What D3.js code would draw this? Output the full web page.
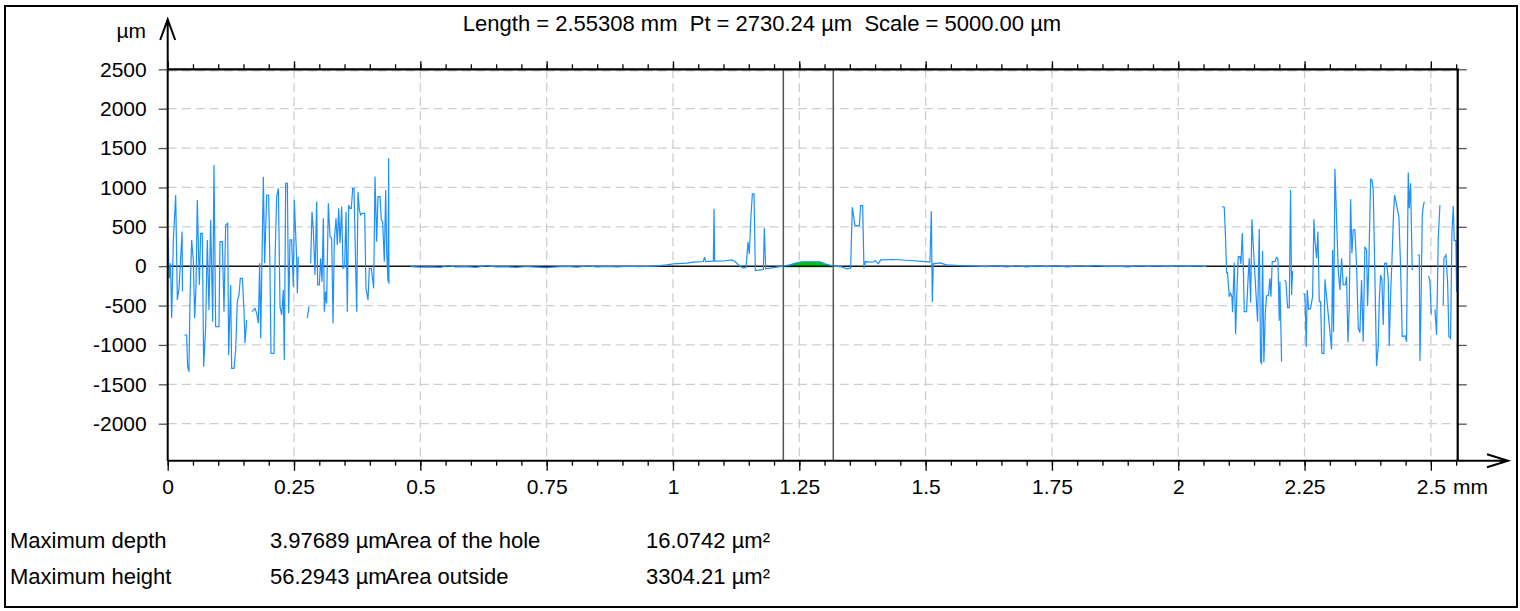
<!DOCTYPE html>
<html><head><meta charset="utf-8">
<script src="https://cdn.jsdelivr.net/npm/d3@7"></script>
<style>
body{margin:0;background:#fff}
svg{display:block}
text{font-family:"Liberation Sans",Arial,Helvetica,sans-serif;fill:#000}
</style>
</head><body>
<svg id="c" width="1520" height="611"></svg>
<script>
// ---------- data ----------
const titleText = "Length = 2.55308 mm  Pt = 2730.24 µm  Scale = 5000.00 µm";
const xUnit = "mm";
const yUnit = "µm";
const xDomain = [0, 2.55308];
const yDomain = [-2470, 2500];
const xTickValues = [0, 0.25, 0.5, 0.75, 1, 1.25, 1.5, 1.75, 2, 2.25, 2.5];
const xTickLabels = ["0", "0.25", "0.5", "0.75", "1", "1.25", "1.5", "1.75", "2", "2.25", "2.5"];
const yTickValues = [-2000, -1500, -1000, -500, 0, 500, 1000, 1500, 2000, 2500];
const yTickLabels = ["-2000", "-1500", "-1000", "-500", "0", "500", "1000", "1500", "2000", "2500"];
const cursorX = [1.2184, 1.3173];

// profile (mm, µm); null = missing points
const profileX = [
  0.0005,0.0030,0.0055,0.0079,0.0112,0.0158,0.0191,0.0224,0.0285,0.0292,null,
  0.0329,0.0375,0.0395,0.0421,0.0441,0.0474,0.0507,0.0534,0.0560,0.0586,0.0626,0.0652,0.0685,0.0712,0.0751,0.0784,0.0817,0.0850,0.0890,0.0916,0.0949,0.1015,0.1035,0.1081,0.1114,0.1147,0.1187,0.1206,0.1246,0.1266,0.1312,0.1345,0.1378,0.1411,0.1437,0.1477,0.1510,0.1530,0.1563,null,
  0.1668,0.1728,0.1761,0.1794,0.1820,0.1840,0.1866,0.1893,0.1919,0.1959,0.1998,0.2024,0.2044,0.2104,0.2124,0.2157,0.2190,0.2223,0.2256,0.2288,0.2308,0.2335,0.2368,0.2394,0.2420,0.2453,0.2486,0.2506,0.2552,0.2566,0.2585,null,
  0.2763,0.2796,null,
  0.2829,0.2856,0.2882,0.2915,0.2948,0.2968,0.3001,0.3027,0.3054,0.3080,0.3100,0.3126,0.3146,0.3179,0.3212,0.3245,0.3272,0.3298,0.3331,0.3357,0.3384,0.3410,0.3443,0.3469,0.3502,0.3529,0.3555,0.3582,0.3608,0.3634,0.3661,0.3687,0.3713,0.3740,0.3766,0.3793,0.3819,0.3845,0.3898,0.3924,0.3964,0.3990,0.4030,0.4076,0.4103,0.4136,0.4162,0.4202,0.4228,0.4254,0.4287,0.4314,0.4333,0.4360,0.4373,0.4378,null,
  0.4542,0.4550,null,
  0.481,0.50,0.52,0.54,0.555,0.57,0.59,0.61,0.63,0.65,0.67,0.69,0.71,0.73,0.75,0.77,0.79,0.81,0.83,0.85,0.87,0.89,0.91,0.93,0.95,0.97,0.9875,
  1.0007,1.0271,1.0403,1.0601,1.0625,1.0645,1.0799,1.0812,1.0825,1.0997,1.1162,1.1228,1.1261,1.1327,1.1393,1.1446,1.1485,1.1511,1.1544,1.1571,1.1604,1.1630,1.1789,1.1808,1.1835,1.2052,
  1.2184,1.2316,1.2448,1.2547,1.2712,1.2909,1.3008,1.3173,
  1.3338,1.3437,1.3516,1.3549,1.3602,1.3688,1.3714,1.3754,1.3780,1.3807,1.3899,1.3965,1.3998,1.4064,1.4110,1.4361,1.4691,1.4988,1.5086,1.5113,1.5133,1.5152,1.5284,1.5416,1.5680,1.6010,
  1.62,1.64,1.66,1.68,1.70,1.72,1.74,1.76,1.78,1.80,1.82,1.84,1.86,1.88,1.90,1.92,1.94,1.96,1.98,2.00,2.02,2.04,2.056,null,
  2.0871,2.0911,2.0937,2.0957,2.0976,2.1009,2.1036,2.1062,2.1075,2.1108,2.1135,2.1161,2.1188,2.1221,2.1240,2.1267,2.1287,2.1306,2.1352,2.1379,2.1405,2.1432,2.1458,2.1478,2.1570,2.1603,2.1630,2.1649,2.1669,2.1695,2.1722,2.1748,2.1788,2.1814,2.1834,2.1860,2.1913,2.1946,2.1973,2.1999,2.2012,2.2045,null,
  2.2105,2.2131,2.2164,2.2197,2.2223,2.2243,2.2263,null,
  2.2474,2.2507,2.2533,2.2553,2.2580,2.2619,2.2659,2.2685,2.2705,2.2738,2.2764,2.2791,2.2817,2.2843,2.2883,2.2903,2.3035,2.3055,2.3074,2.3101,2.3167,2.3200,2.3233,2.3266,2.3305,2.3332,2.3358,2.3384,2.3411,2.3437,2.3463,2.3496,2.3530,2.3563,2.3595,2.3628,2.3661,2.3694,2.3727,2.3747,2.3774,2.3807,2.3833,2.3859,2.3886,2.3925,2.3958,2.3978,2.4004,2.4031,2.4057,2.4084,2.4123,2.4156,2.4176,2.4202,2.4229,2.4262,2.4282,2.4367,2.4400,2.4433,2.4486,2.4519,2.4552,2.4572,2.4598,2.4631,null,
  2.4737,2.4770,2.4783,2.4803,2.4829,2.4849,2.4869,null,
  2.4955,2.4981,2.5007,null,
  2.5080,2.5113,2.5146,2.5179,null,
  2.5245,2.5258,2.5298,2.5331,2.5357,2.5390,2.5416,2.5443,2.5462,2.5495,2.5509,2.5529
];
const profileY = [
  354,-154,36,-662,333,904,-429,-281,439,-323,null,
  -874,-874,-1276,-1339,-429,333,79,-662,-260,841,-239,417,417,-1276,-768,333,-556,587,-704,1285,-768,-768,312,312,-577,523,544,-1128,-239,-1297,-1297,-1064,-450,-366,-154,-154,-556,-979,-683,null,
  -577,-535,-598,-725,36,-916,79,1137,36,904,904,-27,-1107,-1107,100,883,989,-514,-620,-302,-1191,1052,1052,-598,333,333,-260,841,100,-344,121,null,
  -660,-514,null,
  36,692,460,-112,820,-239,-239,100,-196,608,-577,-323,-472,798,375,354,-725,333,608,270,735,290,756,-27,-5,692,-577,777,735,735,989,989,206,-577,946,714,650,671,671,-281,-429,-27,-27,-281,1137,312,883,883,587,566,57,968,206,-196,1370,-226,null,
  862,862,null,
  -5,-12,-8,-15,8,-10,-5,-14,6,-10,-6,-16,-4,-12,-18,-8,-2,-12,2,-8,-3,-10,0,-5,-2,5,17,
  30,38,51,59,114,59,63,728,63,66,80,59,38,0,-25,-17,305,157,643,918,918,-55,-42,483,-34,-13,
  0,17,42,56,56,56,30,0,
  -8,-34,-25,749,516,516,770,770,-25,59,51,55,72,30,80,85,72,59,51,698,-457,30,42,17,8,0,
  -6,5,-8,2,-10,4,-5,3,-8,2,-4,6,-6,0,-8,4,-3,5,-5,3,-2,4,-6,null,
  756,748,341,-82,-82,-387,-345,-387,-586,45,-865,-323,121,121,28,417,15,-577,-577,-196,100,-463,595,341,-704,473,-1212,-1233,193,-1221,-598,-378,-366,-154,-387,58,58,112,100,-692,-196,-1212,null,
  -175,-196,-527,-527,967,-366,-60,null,
  -353,-353,-1022,-302,-548,-535,-387,595,333,100,439,-450,-450,-1107,-1107,-167,-1056,206,-831,1234,-60,-302,100,-239,-239,-133,-967,-535,849,163,460,460,0,-789,-844,-175,-958,248,206,-505,79,1103,1095,967,79,-1268,-1022,-450,-112,-175,-747,36,36,-154,-1013,-387,58,692,904,629,0,-895,-883,-958,1188,735,1052,-48,null,
  142,142,-1204,-586,637,756,820,null,
  -124,-196,-607,null,
  -548,-874,354,777,null,
  -493,100,142,-203,-895,-916,417,764,324,324,-323,629
];

const statLabels = ["Maximum depth", "Maximum height"];
const statValues = ["3.97689 µm", "56.2943 µm"];
const areaLabels = ["Area of the hole", "Area outside"];
const areaValues = ["16.0742 µm²", "3304.21 µm²"];

// ---------- layout ----------
const FS = 21;     // tick labels
const FT = 22;     // title / stats
const P = {left: 167.7, right: 1457.7, top: 69.3, bottom: 460.7};
const svg = d3.select("#c");

const x = d3.scaleLinear().domain(xDomain).range([P.left, P.right]);
const y = d3.scaleLinear().domain(yDomain).range([P.bottom, P.top]);

// outer frame
svg.append("rect").attr("x", 5).attr("y", 6).attr("width", 1512).attr("height", 601)
  .attr("fill", "none").attr("stroke", "#000").attr("stroke-width", 2);

// grid
const grid = svg.append("g").attr("stroke", "#cfcfcf").attr("stroke-width", 1.3).attr("stroke-dasharray", "9,5");
grid.selectAll("line.v").data(xTickValues.filter(d => d > 0)).join("line")
  .attr("x1", d => x(d)).attr("x2", d => x(d)).attr("y1", P.top).attr("y2", P.bottom);
grid.selectAll("line.h").data(yTickValues.filter(d => d !== 0)).join("line")
  .attr("x1", P.left).attr("x2", P.right).attr("y1", d => y(d) + (d === 2500 ? 1.5 : 0)).attr("y2", d => y(d) + (d === 2500 ? 1.5 : 0));

// minor x ticks every 0.05 mm
const minorTicks = d3.range(0, 2.5501, 0.05).map(v => +v.toFixed(2));

// bottom axis
const bx = svg.append("g").attr("transform", `translate(0,${P.bottom})`);
bx.call(d3.axisBottom(x).tickValues(minorTicks).tickSize(5).tickFormat(""));
bx.call(g => g.select(".domain").remove());
const bxMaj = svg.append("g").attr("transform", `translate(0,${P.bottom})`)
  .call(d3.axisBottom(x).tickValues(xTickValues).tickSize(10).tickPadding(8)
    .tickFormat((d, i) => xTickLabels[i]));
bxMaj.select(".domain").remove();

// top axis ticks
const tx = svg.append("g").attr("transform", `translate(0,${P.top})`)
  .call(d3.axisTop(x).tickValues(minorTicks).tickSize(5).tickFormat(""));
tx.select(".domain").remove();
const txMaj = svg.append("g").attr("transform", `translate(0,${P.top})`)
  .call(d3.axisTop(x).tickValues(xTickValues).tickSize(8).tickFormat(""));
txMaj.select(".domain").remove();

// left axis
const ly = svg.append("g").attr("transform", `translate(${P.left},0)`)
  .call(d3.axisLeft(y).tickValues(yTickValues).tickSize(9).tickPadding(12)
    .tickFormat((d, i) => yTickLabels[i]));
ly.select(".domain").remove();
ly.selectAll(".tick line").attr("stroke", "#555");
// right axis
const ry = svg.append("g").attr("transform", `translate(${P.right},0)`)
  .call(d3.axisRight(y).tickValues(yTickValues).tickSize(9).tickFormat(""));
ry.select(".domain").remove();
ry.selectAll(".tick line").attr("stroke", "#555");

svg.selectAll(".tick text").attr("font-size", FS).attr("font-family", "Liberation Sans, Arial, sans-serif").attr("fill", "#000");
svg.selectAll(".tick line").attr("stroke-width", 1.3);

// green area between cursors
const inCursor = profileX.map((d, i) => ({x: d, y: profileY[i]}))
  .filter(d => d.x !== null && d.y !== null && d.x >= cursorX[0] && d.x <= cursorX[1]);
svg.append("path").datum(inCursor)
  .attr("fill", "#00c400")
  .attr("d", d3.area().x(d => x(d.x)).y0(y(0) + 1).y1(d => y(Math.max(0, d.y))));

// zero line
svg.append("line").attr("x1", P.left).attr("x2", P.right).attr("y1", y(0)).attr("y2", y(0))
  .attr("stroke", "#111").attr("stroke-width", 1.5);

// profile line
const pts = profileX.map((d, i) => ({x: d, y: profileY[i]}));
svg.append("path").datum(pts)
  .attr("fill", "none").attr("stroke", "#1e8fff").attr("stroke-width", 1.2)
  .attr("stroke-linejoin", "miter")
  .attr("d", d3.line().defined(d => d.x !== null && d.y !== null).x(d => x(d.x)).y(d => y(d.y)));

// cursor lines
svg.selectAll("line.cursor").data(cursorX).join("line")
  .attr("x1", d => x(d)).attr("x2", d => x(d)).attr("y1", P.top).attr("y2", P.bottom)
  .attr("stroke", "#555").attr("stroke-width", 1.5);

// frame of plot: top + right
svg.append("path").attr("d", `M${P.left},${P.top}H${P.right}V${P.bottom}`)
  .attr("fill", "none").attr("stroke", "#000").attr("stroke-width", 2.2);

// axes with arrows
svg.append("path").attr("d", `M${P.left},${P.bottom}V19.5M${P.left - 7.5},40L${P.left},19.5L${P.left + 7.5},40`)
  .attr("fill", "none").attr("stroke", "#000").attr("stroke-width", 2);
svg.append("path").attr("d", `M${P.left},${P.bottom}H1508M1487,${P.bottom - 6.5}L1508,${P.bottom}L1487,${P.bottom + 6.5}`)
  .attr("fill", "none").attr("stroke", "#000").attr("stroke-width", 2);

// unit labels
svg.append("text").attr("x", 146).attr("y", 37.5).attr("text-anchor", "end").attr("font-size", FS).text(yUnit);
svg.append("text").attr("x", 1453).attr("y", 494).attr("font-size", FS).text(xUnit);

// title
svg.append("text").attr("x", 762).attr("y", 31).attr("text-anchor", "middle")
  .attr("font-size", FT).style("white-space", "pre").text(titleText);

// stats
const rowsY = [548, 584];
statLabels.forEach((t, i) => {
  svg.append("text").attr("x", 10).attr("y", rowsY[i]).attr("font-size", FT).text(t);
  svg.append("text").attr("x", 270).attr("y", rowsY[i]).attr("font-size", FT).text(statValues[i]);
  svg.append("text").attr("x", 385).attr("y", rowsY[i]).attr("font-size", FT).text(areaLabels[i]);
  svg.append("text").attr("x", 646).attr("y", rowsY[i]).attr("font-size", FT).text(areaValues[i]);
});
</script>
</body></html>
